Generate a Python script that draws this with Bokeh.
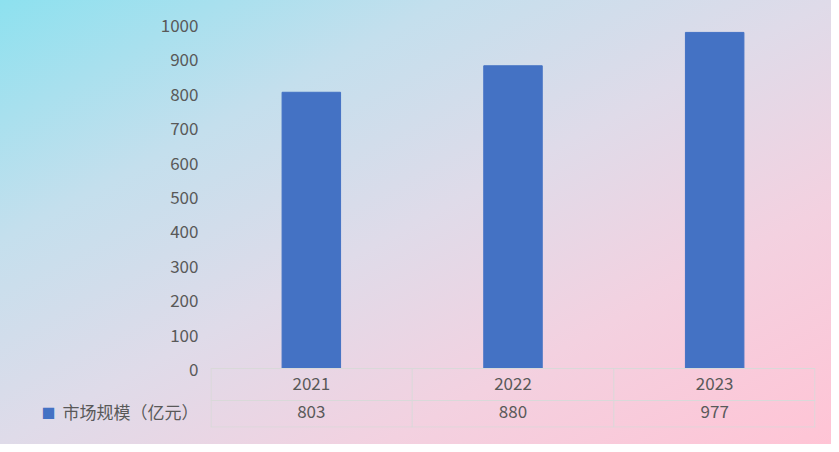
from bokeh.plotting import figure
from bokeh.models import FactorRange, Range1d, FixedTicker, LinearAxis
from bokeh.core.properties import value
from bokeh.embed import file_html
from bokeh.resources import INLINE

# ---- data ----
years = ["2021", "2022", "2023"]
market_size = [803, 880, 977]
series_name = "市场规模（亿元）"
y_ticks = [0, 100, 200, 300, 400, 500, 600, 700, 800, 900, 1000]

# ---- style ----
BAR = "#4472C4"
TXT = "#595959"
GRIDC = "#d9d9d9"
FONT = "Noto Sans CJK SC"
FS = "17px"

W, H = 831, 444
px_per_unit = 344 / 1000.0          # 0..1000 spans 344 px
row1 = 32 / px_per_unit             # height of year row (data units)
row2 = 27 / px_per_unit             # height of value row
y_bottom = -(row1 + row2)
year_row_y = -44
value_row_y = -125

p = figure(width=W, height=H, output_backend="svg", toolbar_location=None,
           x_range=FactorRange(*years, range_padding=0),
           y_range=Range1d(y_bottom, 1000),
           min_border_left=210, min_border_right=16,
           min_border_top=24, min_border_bottom=17)
p.styles = {"background": "linear-gradient(to bottom right, #8de1ef 0%, #c4dfed 27%, "
                          "#dfdbe9 50%, #f3d1e0 73%, #ffc4d5 100%)"}
p.border_fill_alpha = 0
p.background_fill_alpha = 0
p.outline_line_color = None
p.xgrid.visible = False
p.ygrid.visible = False
p.xaxis.visible = False

def style_axis(ax, ticks, overrides, color, size, standoff):
    ax.ticker = FixedTicker(ticks=ticks)
    ax.major_label_overrides = overrides
    ax.axis_line_color = None
    ax.major_tick_line_color = None
    ax.minor_tick_line_color = None
    ax.major_tick_out = 0
    ax.major_tick_in = 0
    ax.major_label_standoff = standoff
    ax.major_label_text_font = FONT
    ax.major_label_text_font_size = size
    ax.major_label_text_color = color

# value axis + series name of the data-table row
style_axis(p.yaxis[0], y_ticks + [value_row_y], {value_row_y: series_name},
           TXT, FS, 12)
# legend key square for the series, left of the series name
key_axis = LinearAxis()
style_axis(key_axis, [value_row_y], {value_row_y: "■"}, BAR, "14px", 4)
p.add_layout(key_axis, "left")

bars = p.vbar(x=years, top=market_size, width=0.29, color=BAR)

# ---- data table under the chart ----
n = len(years)
p.segment(x0=[0, 0, 0], x1=[n, n, n], y0=[0, -row1, y_bottom + 1.2],
          y1=[0, -row1, y_bottom + 1.2], line_color=GRIDC, line_width=1)
xs = [i for i in range(n + 1)]
xs[0] = 0.003
xs[-1] = n - 0.003
p.segment(x0=xs, x1=xs, y0=[0] * (n + 1), y1=[y_bottom] * (n + 1),
          line_color=GRIDC, line_width=1)

p.text(x=years, y=[year_row_y] * n, text=years, text_align="center",
       text_baseline="middle", text_color=TXT, text_font=value(FONT),
       text_font_size=FS)
p.text(x=years, y=[value_row_y] * n, text=[str(v) for v in market_size],
       text_align="center", text_baseline="middle", text_color=TXT,
       text_font=value(FONT), text_font_size=FS)

open("out.html", "w").write(file_html(p, INLINE))
